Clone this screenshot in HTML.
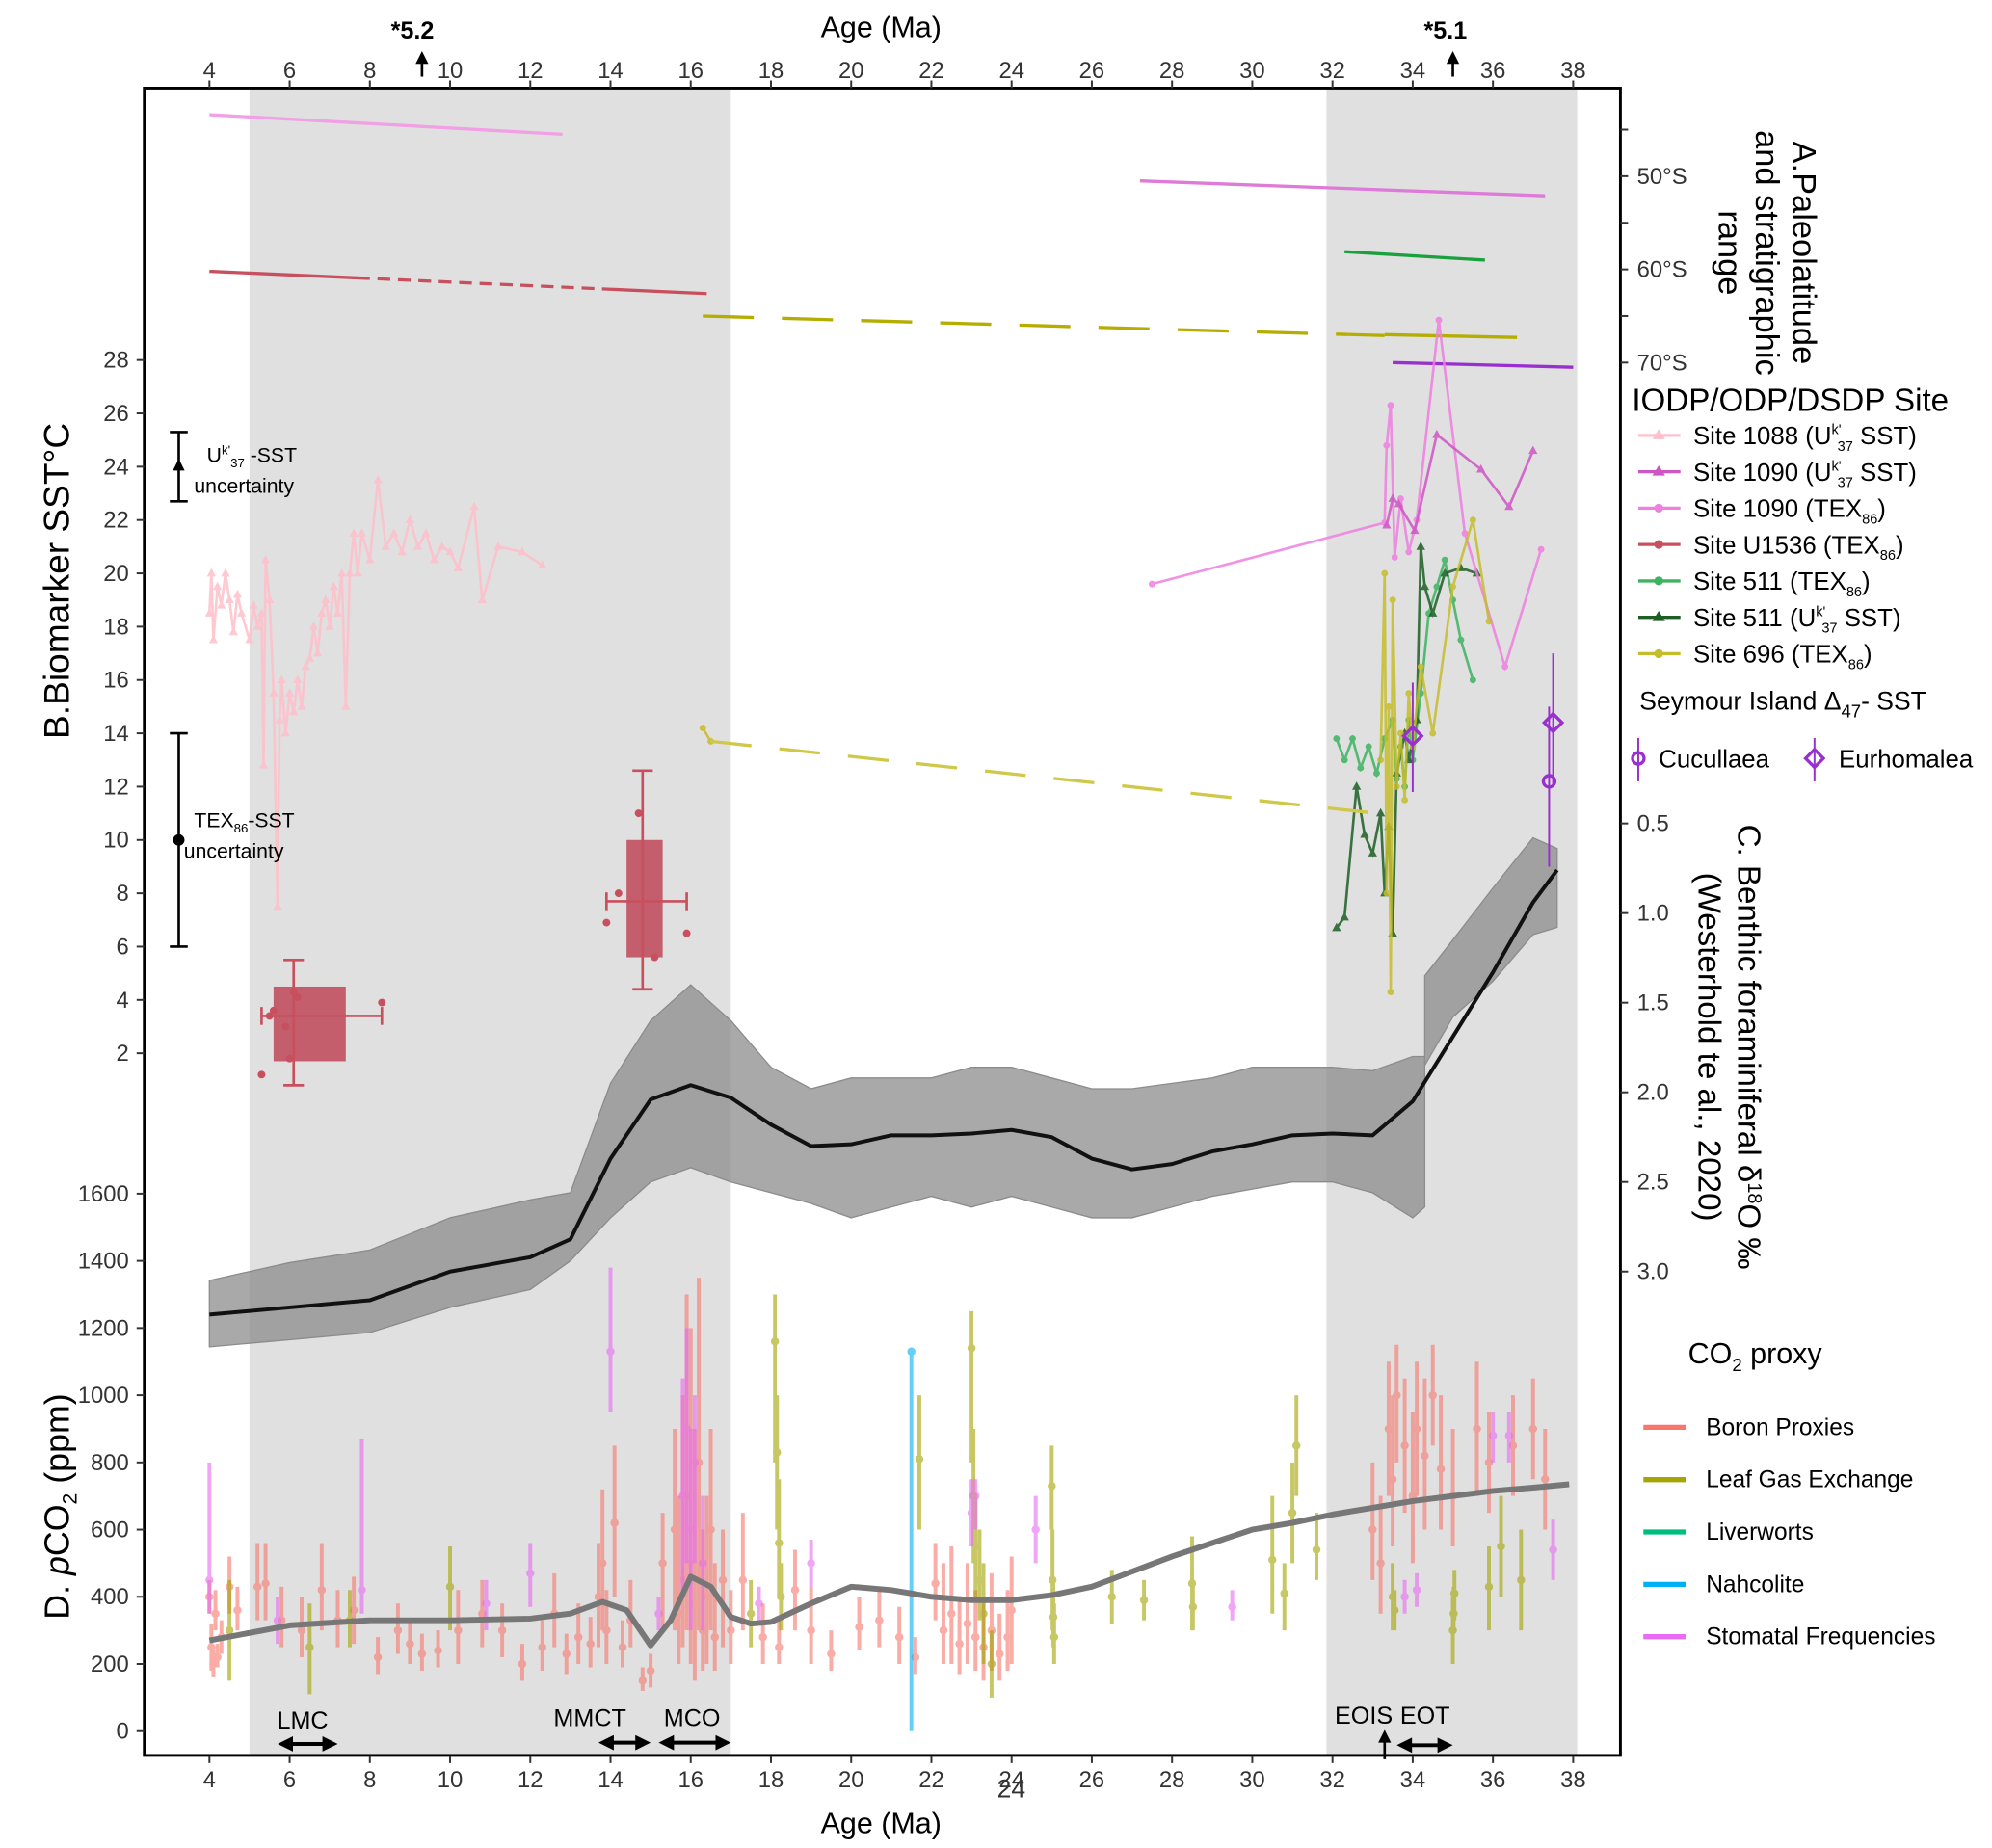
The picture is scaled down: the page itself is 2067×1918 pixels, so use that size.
<!DOCTYPE html>
<html><head><meta charset="utf-8"><style>
html,body{margin:0;padding:0;background:#fff}
svg{display:block;font-family:"Liberation Sans",sans-serif}
</style></head><body>
<svg id="chart" width="2067" height="1918" viewBox="0 0 1560 1447.5" xmlns="http://www.w3.org/2000/svg">
<rect x="0" y="0" width="1560" height="1448" fill="#fff"/>
<g id="bands"></g>
<g id="marks"></g>
<g id="axes"></g>
<g id="labels">
<text x="690" y="29" font-size="23" text-anchor="middle">Age (Ma)</text>
<text x="690" y="1436" font-size="23" text-anchor="middle">Age (Ma)</text>
<text x="792" y="1408" font-size="20" text-anchor="middle" fill="#333">24</text>
<text x="323" y="30" font-size="19" font-weight="bold" text-anchor="middle">*5.2</text>
<text x="1132" y="30" font-size="19" font-weight="bold" text-anchor="middle">*5.1</text>
<text transform="translate(54,455) rotate(-90)" font-size="28" text-anchor="middle">B.Biomarker SST°C</text>
<text transform="translate(54,1180) rotate(-90)" font-size="27" text-anchor="middle">D. <tspan font-style="italic">p</tspan>CO<tspan font-size="16" dy="6">2</tspan><tspan dy="-6"> (ppm)</tspan></text>
<g font-size="26" text-anchor="middle">
<text transform="translate(1404,198) rotate(90)">A.Paleolatitude</text>
<text transform="translate(1375,198) rotate(90)">and stratigraphic</text>
<text transform="translate(1346,198) rotate(90)">range</text>
</g>
<g font-size="25" text-anchor="middle">
<text transform="translate(1361,820) rotate(90)">C. Benthic foraminiferal δ<tspan font-size="15" dy="-8">18</tspan><tspan dy="8">O ‰</tspan></text>
<text transform="translate(1330,820) rotate(90)">(Westerhold te al., 2020)</text>
</g>
<g font-size="16">
<text x="162" y="362">U<tspan font-size="10" dy="-6">k'</tspan><tspan font-size="10" dy="10">37</tspan><tspan dy="-4"> -SST</tspan></text>
<text x="152" y="386">uncertainty</text>
<text x="152" y="648">TEX<tspan font-size="10" dy="4">86</tspan><tspan dy="-4">-SST</tspan></text>
<text x="144" y="672">uncertainty</text>
</g>
<g font-size="19" text-anchor="middle">
<text x="237" y="1354">LMC</text>
<text x="462" y="1352">MMCT</text>
<text x="542" y="1352">MCO</text>
<text x="1068" y="1350">EOIS</text>
<text x="1116" y="1350">EOT</text>
</g>
<g id="legend-sst" font-size="19.5">
<text x="1278" y="322" font-size="25">IODP/ODP/DSDP Site</text>
<text x="1284" y="556" font-size="20">Seymour Island Δ<tspan font-size="14" dy="6">47</tspan><tspan dy="-6">- SST</tspan></text>
</g>
<g id="legend-co2" font-size="18.5">
<text x="1322" y="1068" font-size="23">CO<tspan font-size="14" dy="6">2</tspan><tspan dy="-6"> proxy</tspan></text>
</g>
</g>
</svg>
<script>
// ---------- data ----------
const xTicks=[4,6,8,10,12,14,16,18,20,22,24,26,28,30,32,34,36,38];
const sstTicks=[2,4,6,8,10,12,14,16,18,20,22,24,26,28];
const co2Ticks=[0,200,400,600,800,1000,1200,1400,1600];
const latTicks=[45,50,55,60,65,70];
const latLabels=[50,60,70];
const d18Ticks=[0.5,1.0,1.5,2.0,2.5,3.0];
const bandAges=[[5,17],[31.85,38.1]];
const latPink=[4,12.8,43.4,45.5];
const latU1536=[4,16.4,60.2,62.6];
const latU1536Dash=[8,13.8];
const lat696Dash=[16.3,33.3,65.0,67.1];
const lat696=[33.3,36.6,67.0,67.3];
const lat1090=[27.2,37.3,50.5,52.1];
const lat511=[32.3,35.8,58.1,59.0];
const latSeymour=[33.5,38.0,70.0,70.5];
const s1088Age=[4,4.05,4.1,4.2,4.3,4.4,4.5,4.6,4.7,4.8,5,5.1,5.2,5.3,5.35,5.4,5.5,5.6,5.7,5.75,5.8,5.9,6,6.1,6.2,6.3,6.4,6.5,6.6,6.7,6.8,6.9,7,7.1,7.2,7.3,7.4,7.5,7.6,7.7,7.8,8,8.2,8.4,8.6,8.8,9,9.2,9.4,9.6,9.8,10,10.2,10.6,10.8,11.2,11.8,12.3];
const s1088Val=[18.5,20,17.5,19.5,18.8,20,19,17.8,19.2,18.5,17.5,18.8,18,18.5,12.8,20.5,19,15.5,7.5,14.5,16,14,15.5,14.8,16,15,16.5,16.8,18,17,18.5,19,18,19.5,18.5,20,15,20,21.5,20,21.5,20.5,23.5,21,21.5,20.8,22,21,21.5,20.5,21,20.8,20.2,22.5,19,21,20.8,20.3];
const s1090UkAge=[33.35,33.5,33.65,34.05,34.6,35.7,36.4,37];
const s1090UkVal=[21.8,22.8,22.6,21.6,25.2,23.9,22.5,24.6];
const s1090TexAge=[27.5,33.3,33.35,33.45,33.55,33.7,33.9,34.1,34.65,35.3,36.3,37.2];
const s1090TexVal=[19.6,21.9,24.8,26.3,20.6,22.8,20.8,22,29.5,21.5,16.5,20.9];
const s511TexAge=[32.1,32.3,32.5,32.7,32.9,33.1,33.3,33.5,33.6,33.7,33.8,33.9,34,34.2,34.4,34.6,34.8,35,35.2,35.5];
const s511TexVal=[13.8,13,13.8,12.7,13.5,12.5,13.8,14.5,12.3,13.5,12,14.5,13,15.5,18.5,19.5,20.5,19,17.5,16];
const s511UkAge=[32.1,32.3,32.6,32.8,33,33.2,33.3,33.4,33.5,33.6,33.8,33.9,34.1,34.2,34.3,34.5,34.8,35.2,35.6];
const s511UkVal=[6.7,7.1,12,10.2,9.5,11,8,10.5,6.5,12.5,14,13,14.5,21,19.5,18.5,20,20.2,20];
const s696EarlyAge=[16.3,16.5];
const s696EarlyVal=[14.2,13.7];
const s696DashEnd=[33.1,11];
const s696Age=[33.2,33.3,33.35,33.4,33.45,33.5,33.6,33.7,33.8,33.9,34,34.2,34.5,35,35.5,35.9];
const s696Val=[13,20,8,15,4.3,19,12,14,11.5,15.5,13.5,16.5,14,19.5,22,18.2];
const u1536Box1=[5.6,7.4,1.7,4.5,6.1,3.4,5.3,8.3,0.8,5.5];
const u1536Box2=[14.4,15.3,5.6,10,14.8,7.7,13.9,15.9,4.4,12.6];
const u1536PtAge=[5.3,5.5,5.6,5.9,6,6.1,6.2,8.3,13.9,14.2,14.7,15.1,15.9];
const u1536PtVal=[1.2,3.4,3.6,3,1.8,4.3,4.1,3.9,6.9,8,11,5.6,6.5];
const cucAge=[37.4]; const cucVal=[12.2]; const cucLo=[9]; const cucHi=[15];
const eurAge=[34,37.5]; const eurVal=[13.9,14.4]; const eurLo=[11.8,12]; const eurHi=[15.9,17];
const d18Age=[4,6,8,10,12,13,14,15,16,17,18,19,20,21,22,23,24,25,26,27,28,29,30,31,32,33,34,34.3];
const d18Hi=[3.42,3.38,3.34,3.2,3.1,2.94,2.7,2.5,2.42,2.5,2.56,2.62,2.7,2.64,2.58,2.64,2.58,2.64,2.7,2.7,2.64,2.58,2.54,2.5,2.5,2.56,2.7,2.64];
const d18Lo=[3.05,2.95,2.88,2.7,2.6,2.56,1.95,1.6,1.4,1.6,1.86,1.98,1.92,1.92,1.92,1.86,1.86,1.92,1.98,1.98,1.95,1.92,1.86,1.86,1.86,1.88,1.8,1.8];
const d18bAge=[34.3,35,36,37,37.6];
const d18bHi=[1.85,1.58,1.38,1.12,1.08];
const d18bLo=[1.35,1.15,0.86,0.58,0.64];
const d18SmAge=[4,6,8,10,12,13,14,15,16,17,18,19,20,21,22,23,24,25,26,27,28,29,30,31,32,33,34,35,36,37,37.6];
const d18SmVal=[3.24,3.20,3.16,3.00,2.92,2.82,2.37,2.04,1.96,2.03,2.18,2.30,2.29,2.24,2.24,2.23,2.21,2.25,2.37,2.43,2.40,2.33,2.29,2.24,2.23,2.24,2.05,1.69,1.33,0.94,0.76];
const co2SmAge=[4,6,8,10,12,13,13.8,14.4,15,15.5,16,16.5,17,17.5,18,19,20,21,22,23,24,25,26,27,28,29,30,31,32,33,34,35,36,37,37.9];
const co2SmVal=[270,315,330,330,335,350,385,360,255,330,460,430,340,320,325,380,430,420,400,390,390,405,430,475,520,560,600,620,645,665,685,700,715,725,735];
const boronAge=[4,4.05,4.1,4.15,4.2,4.3,4.5,4.7,5.2,5.4,5.8,6.3,6.8,7.2,7.6,8.2,8.7,9,9.3,9.7,10.2,10.8,11.3,11.8,12.3,12.6,12.9,13.2,13.5,13.7,13.8,13.9,14.1,14.3,14.5,14.8,15,15.3,15.6,15.7,15.8,15.9,16,16.1,16.2,16.3,16.4,16.5,16.6,16.8,17,17.3,17.8,18.2,18.6,19,19.5,20.2,20.7,21.2,21.6,22.1,22.3,22.5,22.7,22.9,23.1,23.3,23.5,23.7,23.9,24,33,33.2,33.4,33.5,33.6,33.8,34,34.1,34.3,34.5,34.7,35,35.6,35.9,36.5,37,37.3];
const boronVal=[400,250,200,350,220,280,430,360,430,440,330,300,420,330,360,220,300,260,230,240,300,350,300,200,250,350,230,280,260,400,500,300,620,250,330,150,180,500,600,350,450,700,500,380,800,300,400,600,280,450,300,450,280,250,420,300,230,310,330,280,220,440,300,350,260,320,280,250,300,230,280,360,600,500,900,750,1000,850,700,900,820,1000,780,700,900,800,850,900,750];
const boronLo=[350,180,160,300,190,230,350,300,330,330,250,220,300,250,260,170,230,200,180,190,200,250,220,150,180,250,170,200,190,250,300,200,400,190,250,120,130,300,300,200,250,300,200,150,300,180,200,300,180,250,200,300,200,200,300,200,180,240,250,200,170,330,200,200,170,200,180,150,180,150,180,200,450,350,700,550,800,650,500,700,600,850,600,550,700,650,700,750,600];
const boronHi=[450,320,240,420,260,330,520,430,560,560,430,400,560,420,460,280,380,330,290,300,420,450,380,260,330,470,290,380,340,560,720,420,850,330,450,190,230,650,900,700,1000,1300,1200,900,1350,600,700,900,500,600,420,650,380,330,540,430,300,400,420,370,280,560,500,550,400,500,420,400,470,350,420,520,800,700,1100,1000,1150,1050,950,1100,1050,1150,1000,900,1100,950,1000,1050,900];
const leafAge=[4.5,6.5,7.5,10,17.5,18.1,18.15,18.2,18.25,21.7,23,23.05,23.1,23.2,23.3,23.5,25,25.02,25.04,25.06,26.5,27.3,28.5,28.52,30.5,30.8,31,31.1,31.6,33.5,33.55,35,35.02,35.04,35.9,36.2,36.7];
const leafVal=[300,250,330,430,350,1160,830,560,400,810,1140,700,550,450,350,200,730,450,340,280,400,390,440,370,510,410,650,850,540,400,360,300,350,410,430,550,450];
const leafLo=[150,110,250,300,250,800,600,400,300,600,800,500,400,330,200,100,600,300,250,200,320,330,300,300,350,300,500,700,450,300,300,200,300,330,300,400,300];
const leafHi=[450,380,420,550,450,1300,1000,750,500,1000,1250,900,700,600,500,300,850,600,450,380,480,450,580,450,700,500,800,1000,650,500,420,400,430,480,550,700,600];
const nahAge=[21.5]; const nahVal=[1130]; const nahLo=[0]; const nahHi=[1130];
const stomAge=[4,5.7,7.8,10.9,12,14,15.2,15.8,15.9,16,16.1,16.3,17.7,19,23,23.1,24.6,29.5,33.8,34.1,36,36.4,37.5];
const stomVal=[450,330,420,380,470,1130,350,700,900,600,800,500,380,500,650,700,600,370,400,420,880,880,540];
const stomLo=[350,260,350,300,370,950,300,400,500,300,500,300,330,430,550,600,500,330,350,370,800,800,450];
const stomHi=[800,400,870,450,560,1380,400,1050,1200,900,1000,700,430,570,750,750,700,420,450,470,950,950,630];

// ---------- scales ----------
const L=113,R=1269,T=69,B=1375;
const x=a=>164+(a-4)*(1232-164)/34;
const ySST=v=>282+(28-v)*(825-282)/26;
const yCO2=c=>1356-c*(1356-935)/1600;
const yLat=l=>138+(l-50)*(284-138)/20;
const yD=d=>645+(d-0.5)*(996-645)/2.5;
const NS='http://www.w3.org/2000/svg';
function mk(parent,tag,attrs){const e=document.createElementNS(NS,tag);for(const k in attrs)e.setAttribute(k,attrs[k]);parent.appendChild(e);return e;}
const bands=document.getElementById('bands'),marks=document.getElementById('marks'),axes=document.getElementById('axes');

bandAges.forEach((b,i)=>{const r=mk(bands,'rect',{x:x(b[0]),y:T,width:x(b[1])-x(b[0]),height:B-T,fill:'#e0e0e0'});

});

function latLine(d,color,dash,name){const l=mk(marks,'line',{x1:x(d[0]),x2:x(d[1]),y1:yLat(d[2]),y2:yLat(d[3]),stroke:color,'stroke-width':2.5});
if(dash)l.setAttribute('stroke-dasharray',dash);

return l;}
latLine(latPink,'#f2a0e6',null,'paleolat-site-1088');
latLine(latU1536,'#c8505e',null,'paleolat-site-u1536');
{const f=t=>latU1536[2]+(t-latU1536[0])/(latU1536[1]-latU1536[0])*(latU1536[3]-latU1536[2]);
const w=mk(marks,'line',{x1:x(latU1536Dash[0]),x2:x(latU1536Dash[1]),y1:yLat(f(latU1536Dash[0])),y2:yLat(f(latU1536Dash[1])),stroke:'#e0e0e0','stroke-width':4,'stroke-dasharray':'6 10'});

}
latLine(lat696Dash,'#b5ad00','40 22','paleolat-site-696-dashed');
latLine(lat696,'#b5ad00',null,'paleolat-site-696');
latLine(lat1090,'#de7ad8',null,'paleolat-site-1090');
latLine(lat511,'#1aa03c',null,'paleolat-site-511');
latLine(latSeymour,'#9a2fd0',null,'paleolat-seymour');

{let p='M';d18Age.forEach((a,i)=>p+=x(a)+','+yD(d18Hi[i])+' L');
for(let i=d18Age.length-1;i>=0;i--)p+=x(d18Age[i])+','+yD(d18Lo[i])+(i?' L':' Z');
const e=mk(marks,'path',{d:p,fill:'#8c8c8c','fill-opacity':0.75,stroke:'#8c8c8c','stroke-width':1});


let q='M';d18bAge.forEach((a,i)=>q+=x(a)+','+yD(d18bHi[i])+' L');
for(let i=d18bAge.length-1;i>=0;i--)q+=x(d18bAge[i])+','+yD(d18bLo[i])+(i?' L':' Z');
const e2=mk(marks,'path',{d:q,fill:'#8c8c8c','fill-opacity':0.75,stroke:'#8c8c8c','stroke-width':1});

}
{const p=d18SmAge.map((a,i)=>x(a)+','+yD(d18SmVal[i])).join(' ');
const l=mk(marks,'polyline',{points:p,fill:'none',stroke:'#111','stroke-width':3,'stroke-linejoin':'round'});

}

function co2Series(A,V,Lo,Hi,color,name){const g=mk(marks,'g',{opacity:0.6});


A.forEach((a,i)=>{mk(g,'line',{x1:x(a),x2:x(a),y1:yCO2(Lo[i]),y2:yCO2(Hi[i]),stroke:color,'stroke-width':3});
const c=mk(g,'circle',{cx:x(a),cy:yCO2(V[i]),r:3.2,fill:color});

});}
co2Series(boronAge,boronVal,boronLo,boronHi,'#F8766D','boron-proxies');
co2Series(leafAge,leafVal,leafLo,leafHi,'#A3A500','leaf-gas-exchange');
co2Series(stomAge,stomVal,stomLo,stomHi,'#E76BF3','stomatal-frequencies');
co2Series(nahAge,nahVal,nahLo,nahHi,'#00B0F6','nahcolite');
{const p=co2SmAge.map((a,i)=>x(a)+','+yCO2(co2SmVal[i])).join(' ');
const l=mk(marks,'polyline',{points:p,fill:'none',stroke:'#777','stroke-width':4.5,'stroke-linejoin':'round'});

}

function box(d,name){const g=mk(marks,'g',{});


mk(g,'rect',{x:x(d[0]),y:ySST(d[3]),width:x(d[1])-x(d[0]),height:ySST(d[2])-ySST(d[3]),fill:'#b8253a','fill-opacity':0.7});
const s={stroke:'#c8505e','stroke-width':2};
mk(g,'line',Object.assign({x1:x(d[6]),x2:x(d[7]),y1:ySST(d[5]),y2:ySST(d[5])},s));
mk(g,'line',Object.assign({x1:x(d[4]),x2:x(d[4]),y1:ySST(d[8]),y2:ySST(d[9])},s));
[d[6],d[7]].forEach(a=>mk(g,'line',Object.assign({x1:x(a),x2:x(a),y1:ySST(d[5])-7,y2:ySST(d[5])+7},s)));
[d[8],d[9]].forEach(v=>mk(g,'line',Object.assign({x1:x(d[4])-8,x2:x(d[4])+8,y1:ySST(v),y2:ySST(v)},s)));}
box(u1536Box1,'u1536-box-late-miocene');
box(u1536Box2,'u1536-box-mmct');
u1536PtAge.forEach((a,i)=>{const c=mk(marks,'circle',{cx:x(a),cy:ySST(u1536PtVal[i]),r:3,fill:'#c8505e'});

});

function series(A,V,color,shape,name,op){const g=mk(marks,'g',{opacity:op||0.85});


mk(g,'polyline',{points:A.map((a,i)=>x(a)+','+ySST(V[i])).join(' '),fill:'none',stroke:color,'stroke-width':2});
A.forEach((a,i)=>{const px=x(a),py=ySST(V[i]);let m;
if(shape==='tri')m=mk(g,'path',{d:`M${px},${py-4} L${px+3.5},${py+2.5} L${px-3.5},${py+2.5} Z`,fill:color});
else m=mk(g,'circle',{cx:px,cy:py,r:2.6,fill:color});

});}
series(s1088Age,s1088Val,'#ffc0cb','tri','site-1088-uk37');
series(s511TexAge,s511TexVal,'#3cb460','dot','site-511-tex86');
series(s511UkAge,s511UkVal,'#1d5e25','tri','site-511-uk37');
series(s1090TexAge,s1090TexVal,'#ef7fe0','dot','site-1090-tex86');
series(s1090UkAge,s1090UkVal,'#cf55c4','tri','site-1090-uk37');
series(s696Age,s696Val,'#c6bd2c','dot','site-696-tex86');
series(s696EarlyAge,s696EarlyVal,'#c6bd2c','dot','site-696-early');
{const l=mk(marks,'line',{x1:x(s696EarlyAge[1]),y1:ySST(s696EarlyVal[1]),x2:x(s696DashEnd[0]),y2:ySST(s696DashEnd[1]),stroke:'#d0c848','stroke-width':2.5,'stroke-dasharray':'32 22'});

}
function seym(A,V,Lo,Hi,shape,name){A.forEach((a,i)=>{const g=mk(marks,'g',{});


mk(g,'line',{x1:x(a),x2:x(a),y1:ySST(Lo[i]),y2:ySST(Hi[i]),stroke:'#9a2fd0','stroke-width':1.5});
const px=x(a),py=ySST(V[i]);
if(shape==='o')mk(g,'circle',{cx:px,cy:py,r:4.5,fill:'none',stroke:'#9a2fd0','stroke-width':2.5});
else mk(g,'path',{d:`M${px},${py-7} L${px+7},${py} L${px},${py+7} L${px-7},${py} Z`,fill:'none',stroke:'#9a2fd0','stroke-width':2.5});});}
seym(cucAge,cucVal,cucLo,cucHi,'o','seymour-cucullaea');
seym(eurAge,eurVal,eurLo,eurHi,'d','seymour-eurhomalea');

function ubar(lo,hi,mid,marker,name){const g=mk(marks,'g',{stroke:'#000','stroke-width':2});


const cx=140;mk(g,'line',{x1:cx,x2:cx,y1:ySST(lo),y2:ySST(hi)});
mk(g,'line',{x1:cx-7,x2:cx+7,y1:ySST(lo),y2:ySST(lo)});
mk(g,'line',{x1:cx-7,x2:cx+7,y1:ySST(hi),y2:ySST(hi)});
if(marker==='tri')mk(g,'path',{d:`M${cx},${ySST(mid)-4} L${cx+3},${ySST(mid)+2} L${cx-3},${ySST(mid)+2} Z`,fill:'#000'});
else mk(g,'circle',{cx:cx,cy:ySST(mid),r:3.5,fill:'#000'});}
ubar(22.7,25.3,24,'tri','uk37-uncertainty-bar');
ubar(6,14,10,'dot','tex86-uncertainty-bar');

function harrow(a1,a2,y,name){const g=mk(marks,'g',{});


const x1=x(a1),x2=x(a2);mk(g,'line',{x1:x1+6,x2:x2-6,y1:y,y2:y,stroke:'#000','stroke-width':3});
mk(g,'path',{d:`M${x1},${y} L${x1+12},${y-6} L${x1+12},${y+6} Z`,fill:'#000'});
mk(g,'path',{d:`M${x2},${y} L${x2-12},${y-6} L${x2-12},${y+6} Z`,fill:'#000'});}
harrow(5.7,7.2,1366,'lmc-arrow');harrow(13.7,15,1365,'mmct-arrow');harrow(15.2,17,1365,'mco-arrow');harrow(33.6,35,1367,'eot-arrow');
function varrow(a,y1,y2,name){const g=mk(marks,'g',{});


mk(g,'line',{x1:x(a),x2:x(a),y1:y1,y2:y2+6,stroke:'#000','stroke-width':2});
mk(g,'path',{d:`M${x(a)},${y2} L${x(a)-5},${y2+10} L${x(a)+5},${y2+10} Z`,fill:'#000'});}
varrow(33.3,1378,1355,'eois-arrow');varrow(9.3,60,40,'arrow-5-2');varrow(35,60,40,'arrow-5-1');

{const f=mk(axes,'rect',{x:L,y:T,width:R-L,height:B-T,fill:'none',stroke:'#000','stroke-width':2.2});

}
xTicks.forEach(t=>{const xx=x(t);
mk(axes,'line',{x1:xx,x2:xx,y1:B,y2:B+6,stroke:'#333','stroke-width':1.5});
mk(axes,'line',{x1:xx,x2:xx,y1:T,y2:T-6,stroke:'#333','stroke-width':1.5});
const b=mk(axes,'text',{x:xx,y:1400,'font-size':18,'text-anchor':'middle',fill:'#333'});b.textContent=t;


const tp=mk(axes,'text',{x:xx,y:61,'font-size':18,'text-anchor':'middle',fill:'#333'});tp.textContent=t;

});
sstTicks.forEach(t=>{mk(axes,'line',{x1:L,x2:L-6,y1:ySST(t),y2:ySST(t),stroke:'#333','stroke-width':1.5});
const s=mk(axes,'text',{x:101,y:ySST(t)+6,'font-size':18,'text-anchor':'end',fill:'#333'});s.textContent=t;

});
co2Ticks.forEach(t=>{mk(axes,'line',{x1:L,x2:L-6,y1:yCO2(t),y2:yCO2(t),stroke:'#333','stroke-width':1.5});
const s=mk(axes,'text',{x:101,y:yCO2(t)+6,'font-size':18,'text-anchor':'end',fill:'#333'});s.textContent=t;

});
latTicks.forEach(t=>mk(axes,'line',{x1:R,x2:R+6,y1:yLat(t),y2:yLat(t),stroke:'#333','stroke-width':1.5}));
latLabels.forEach(t=>{const s=mk(axes,'text',{x:1282,y:yLat(t)+6,'font-size':18,fill:'#333'});s.textContent=t+'°S';

});
d18Ticks.forEach(t=>{mk(axes,'line',{x1:R,x2:R+6,y1:yD(t),y2:yD(t),stroke:'#333','stroke-width':1.5});
const s=mk(axes,'text',{x:1282,y:yD(t)+6,'font-size':18,fill:'#333'});s.textContent=t.toFixed(1);

});

const legS=document.getElementById('legend-sst');
const legNames=[['Site 1088 (U','k\'','37',' SST)','#ffc0cb','tri'],['Site 1090 (U','k\'','37',' SST)','#cf55c4','tri'],['Site 1090 (TEX','','86',')','#ef7fe0','dot'],['Site U1536 (TEX','','86',')','#c8505e','dot'],['Site 511 (TEX','','86',')','#3cb460','dot'],['Site 511 (U','k\'','37',' SST)','#1d5e25','tri'],['Site 696 (TEX','','86',')','#c6bd2c','dot']];
legNames.forEach((e,i)=>{const y=341+i*28.5;const g=mk(legS,'g',{});


mk(g,'line',{x1:1283,x2:1316,y1:y,y2:y,stroke:e[4],'stroke-width':2.5});
if(e[5]==='tri')mk(g,'path',{d:`M1299,${y-5} L1304,${y+3} L1294,${y+3} Z`,fill:e[4]});else mk(g,'circle',{cx:1299,cy:y,r:3.5,fill:e[4]});
const t=mk(g,'text',{x:1326,y:y+7});
const a=document.createElementNS(NS,'tspan');a.textContent=e[0];t.appendChild(a);
if(e[1]){const s=document.createElementNS(NS,'tspan');s.setAttribute('font-size','11');s.setAttribute('dy','-8');s.textContent=e[1];t.appendChild(s);
const s2=document.createElementNS(NS,'tspan');s2.setAttribute('font-size','11');s2.setAttribute('dy','13');s2.setAttribute('dx','-3');s2.textContent=e[2];t.appendChild(s2);}
else{const s2=document.createElementNS(NS,'tspan');s2.setAttribute('font-size','11');s2.setAttribute('dy','5');s2.textContent=e[2];t.appendChild(s2);}
const c=document.createElementNS(NS,'tspan');c.setAttribute('dy','-5');c.textContent=e[3];t.appendChild(c);});
{const g=mk(legS,'g',{});


mk(g,'line',{x1:1283,x2:1283,y1:578,y2:612,stroke:'#9a2fd0','stroke-width':1.5});
mk(g,'circle',{cx:1283,cy:594,r:4.5,fill:'none',stroke:'#9a2fd0','stroke-width':2.5});
const t=mk(g,'text',{x:1299,y:601});t.textContent='Cucullaea';
const g2=mk(legS,'g',{});


mk(g2,'line',{x1:1421,x2:1421,y1:578,y2:612,stroke:'#9a2fd0','stroke-width':1.5});
mk(g2,'path',{d:'M1421,587 L1428,594 L1421,601 L1414,594 Z',fill:'none',stroke:'#9a2fd0','stroke-width':2.5});
const t2=mk(g2,'text',{x:1440,y:601});t2.textContent='Eurhomalea';}
const legC=document.getElementById('legend-co2');
[['Boron Proxies','#F8766D'],['Leaf Gas Exchange','#A3A500'],['Liverworts','#00BF7D'],['Nahcolite','#00B0F6'],['Stomatal Frequencies','#E76BF3']].forEach((e,i)=>{const y=1118+i*41;
const g=mk(legC,'g',{});


mk(g,'line',{x1:1287,x2:1320,y1:y,y2:y,stroke:e[1],'stroke-width':4});
const t=mk(g,'text',{x:1336,y:y+6});t.textContent=e[0];});
</script>
</body></html>
